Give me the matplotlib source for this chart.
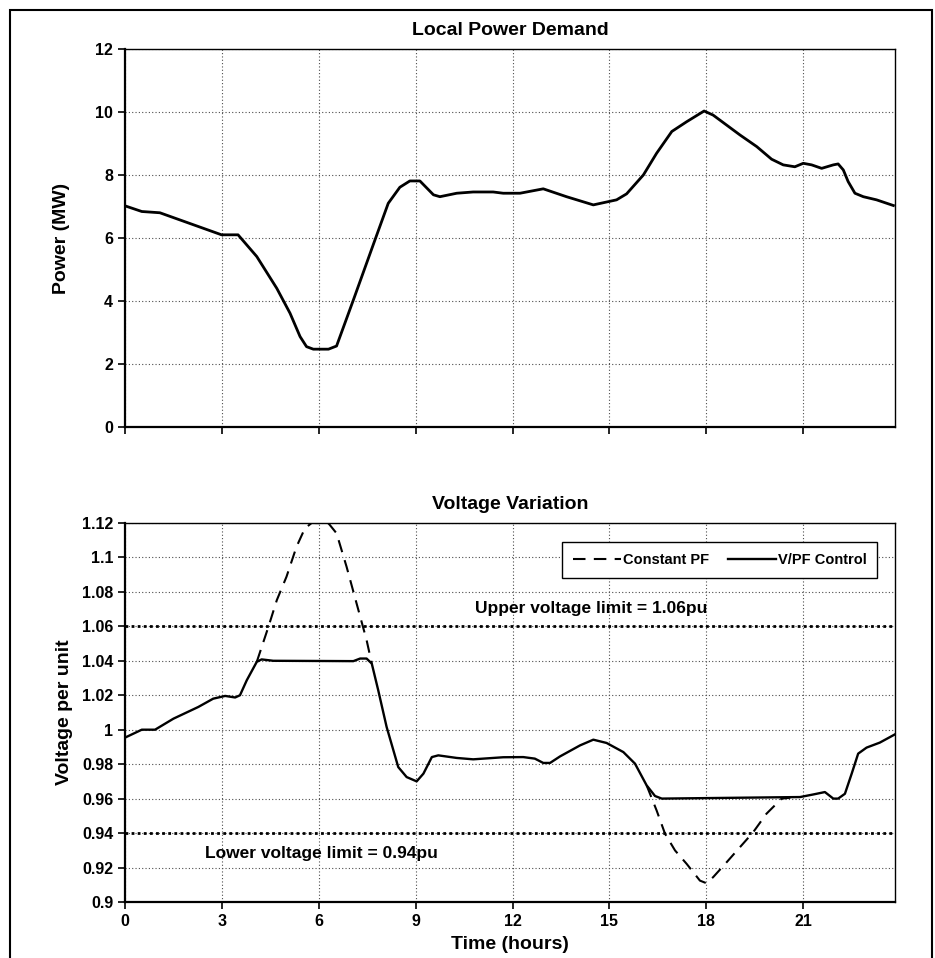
import numpy as np
import matplotlib
matplotlib.use('Agg')
import matplotlib.pyplot as plt
from matplotlib.ticker import MultipleLocator, FuncFormatter
from matplotlib.patches import Rectangle

plt.rcParams['font.family'] = ['Liberation Sans', 'DejaVu Sans']
plt.rcParams['font.weight'] = 'bold'

# Local power demand (MW) over the day
power_time = [0.0, 0.52, 1.08, 2.99, 3.5, 4.08, 4.7, 5.11, 5.42, 5.62, 5.83, 6.3, 6.55,
              7.07, 7.74, 8.15, 8.51, 8.82, 9.13, 9.55, 9.75, 10.27, 10.78, 11.4, 11.71,
              12.23, 12.95, 13.67, 14.5, 15.22, 15.53, 16.05, 16.46, 16.93, 17.39, 17.93,
              18.21, 19.04, 19.56, 20.02, 20.38, 20.74, 21.0, 21.26, 21.57, 21.93, 22.08,
              22.24, 22.39, 22.6, 22.86, 23.27, 23.79]
power_mw = [7.02, 6.84, 6.80, 6.10, 6.10, 5.41, 4.40, 3.61, 2.87, 2.55, 2.47, 2.47, 2.57,
            4.03, 5.94, 7.10, 7.61, 7.81, 7.81, 7.37, 7.31, 7.42, 7.46, 7.46, 7.42,
            7.42, 7.56, 7.31, 7.05, 7.21, 7.40, 8.00, 8.69, 9.38, 9.69, 10.03,
            9.90, 9.27, 8.90, 8.50, 8.32, 8.26, 8.37, 8.32, 8.21, 8.32, 8.35,
            8.16, 7.79, 7.42, 7.31, 7.21, 7.03]

# Voltage with V/PF control (pu)
vpf_time = [0.0, 0.52, 0.93, 1.5, 2.27, 2.73, 3.1, 3.41, 3.56, 3.77, 4.08, 4.23, 4.59,
            7.07, 7.28, 7.48, 7.64, 7.84, 8.1, 8.46, 8.72, 9.03, 9.24, 9.5, 9.7, 10.27,
            10.78, 11.71, 12.33, 12.69, 12.95, 13.16, 13.47, 14.09, 14.5, 14.91, 15.43,
            15.79, 16.15, 16.41, 16.62, 20.9, 21.31, 21.67, 21.93, 22.08, 22.29, 22.5,
            22.7, 22.96, 23.37, 23.84]
vpf_volt = [0.9954, 1.0, 1.0, 1.0064, 1.0132, 1.018, 1.0196, 1.0187, 1.02, 1.0287, 1.0394,
            1.0408, 1.04, 1.0398, 1.0413, 1.0413, 1.0384, 1.0229, 1.0016, 0.9783, 0.9725,
            0.970, 0.9745, 0.9841, 0.9851, 0.9836, 0.9828, 0.984, 0.9841, 0.9832, 0.9807,
            0.9807, 0.9845, 0.9909, 0.9942, 0.9923, 0.987, 0.9803, 0.9677, 0.9615, 0.960,
            0.9609, 0.9624, 0.9638, 0.960, 0.960, 0.9628, 0.9745, 0.9861, 0.9896, 0.9925,
            0.9973]

# Voltage with constant PF where it leaves the V/PF curve (pu)
cpf_time = [4.08, 4.44, 4.7, 5.0, 5.31, 5.57, 5.78, 6.3, 6.55, 6.86, 7.17, 7.48, 7.64,
            np.nan,
            16.15, 16.46, 16.72, 17.03, 17.39, 17.8, 18.0, 18.21, 18.63, 19.04, 19.45,
            19.86, 20.33, 20.6]
cpf_volt = [1.0394, 1.0597, 1.0752, 1.0888, 1.1062, 1.1169, 1.12, 1.1198, 1.114, 1.0946,
            1.0733, 1.052, 1.0384,
            np.nan,
            0.9677, 0.9531, 0.9396, 0.9299, 0.9221, 0.9124, 0.9109, 0.9144, 0.9231,
            0.9318, 0.9405, 0.9512, 0.960, 0.9605]

upper_limit = 1.06
lower_limit = 0.94

fig = plt.figure(figsize=(9.35, 9.58), dpi=100)
ax1 = fig.add_axes([0.1337, 0.5543, 0.8235, 0.3946])
ax2 = fig.add_axes([0.1337, 0.0585, 0.8235, 0.3956])

# outer frame around both charts
fig.patches.append(Rectangle((0.0107, -0.02), 0.986, 1.0096, transform=fig.transFigure,
                             fill=False, edgecolor='black', linewidth=1.5))

grid_kw = dict(color='0.3', linestyle=(0, (1, 2)), linewidth=0.8)

for ax in (ax1, ax2):
    ax.set_xlim(0, 23.84)
    ax.xaxis.set_major_locator(MultipleLocator(3))
    ax.grid(True, **grid_kw)
    ax.set_axisbelow(True)
    ax.tick_params(direction='out', length=5, width=1.2, labelsize=11.5)
    for side in ('left', 'bottom'):
        ax.spines[side].set_linewidth(1.6)
    for side in ('top', 'right'):
        ax.spines[side].set_linewidth(1.0)

# Top: power demand
ax1.plot(power_time, power_mw, color='black', linewidth=2.0)
ax1.set_ylim(0, 12)
ax1.yaxis.set_major_locator(MultipleLocator(2))
ax1.tick_params(axis='x', labelbottom=False)
ax1.set_ylabel('Power (MW)', fontsize=14, fontweight='bold', labelpad=18)
ax1.set_title('Local Power Demand', fontsize=14, fontweight='bold', pad=10)

# Bottom: voltage variation
ax2.set_ylim(0.9, 1.12)
ax2.yaxis.set_major_locator(MultipleLocator(0.02))
ax2.yaxis.set_major_formatter(FuncFormatter(lambda v, _: f'{round(v, 2):g}'))
ax2.axhline(upper_limit, color='black', linestyle=(0, (1, 1.2)), linewidth=2.0, zorder=1.5)
ax2.axhline(lower_limit, color='black', linestyle=(0, (1, 1.2)), linewidth=2.0, zorder=1.5)
ax2.plot(cpf_time, cpf_volt, color='black', linewidth=1.5, linestyle=(0, (6, 4)),
         label='Constant PF')
ax2.plot(vpf_time, vpf_volt, color='black', linewidth=1.7, label='V/PF Control')
ax2.text(14.44, 1.0705, 'Upper voltage limit = 1.06pu', fontsize=12.5, fontweight='bold',
         ha='center', va='center')
ax2.text(6.07, 0.928, 'Lower voltage limit = 0.94pu', fontsize=12.5, fontweight='bold',
         ha='center', va='center')
ax2.set_ylabel('Voltage per unit', fontsize=14, fontweight='bold', labelpad=6)
ax2.set_xlabel('Time (hours)', fontsize=14, fontweight='bold', labelpad=5)
ax2.set_title('Voltage Variation', fontsize=14, fontweight='bold', pad=10)

leg = ax2.legend(loc='upper right', bbox_to_anchor=(0.977, 0.95), borderaxespad=0,
                 ncol=2, fontsize=10.5, handlelength=3.3, handletextpad=0.1,
                 columnspacing=1.3, borderpad=0.75, fancybox=False, framealpha=1,
                 edgecolor='black')
leg.get_frame().set_linewidth(1.0)

fig.savefig('out.png', dpi=100)
